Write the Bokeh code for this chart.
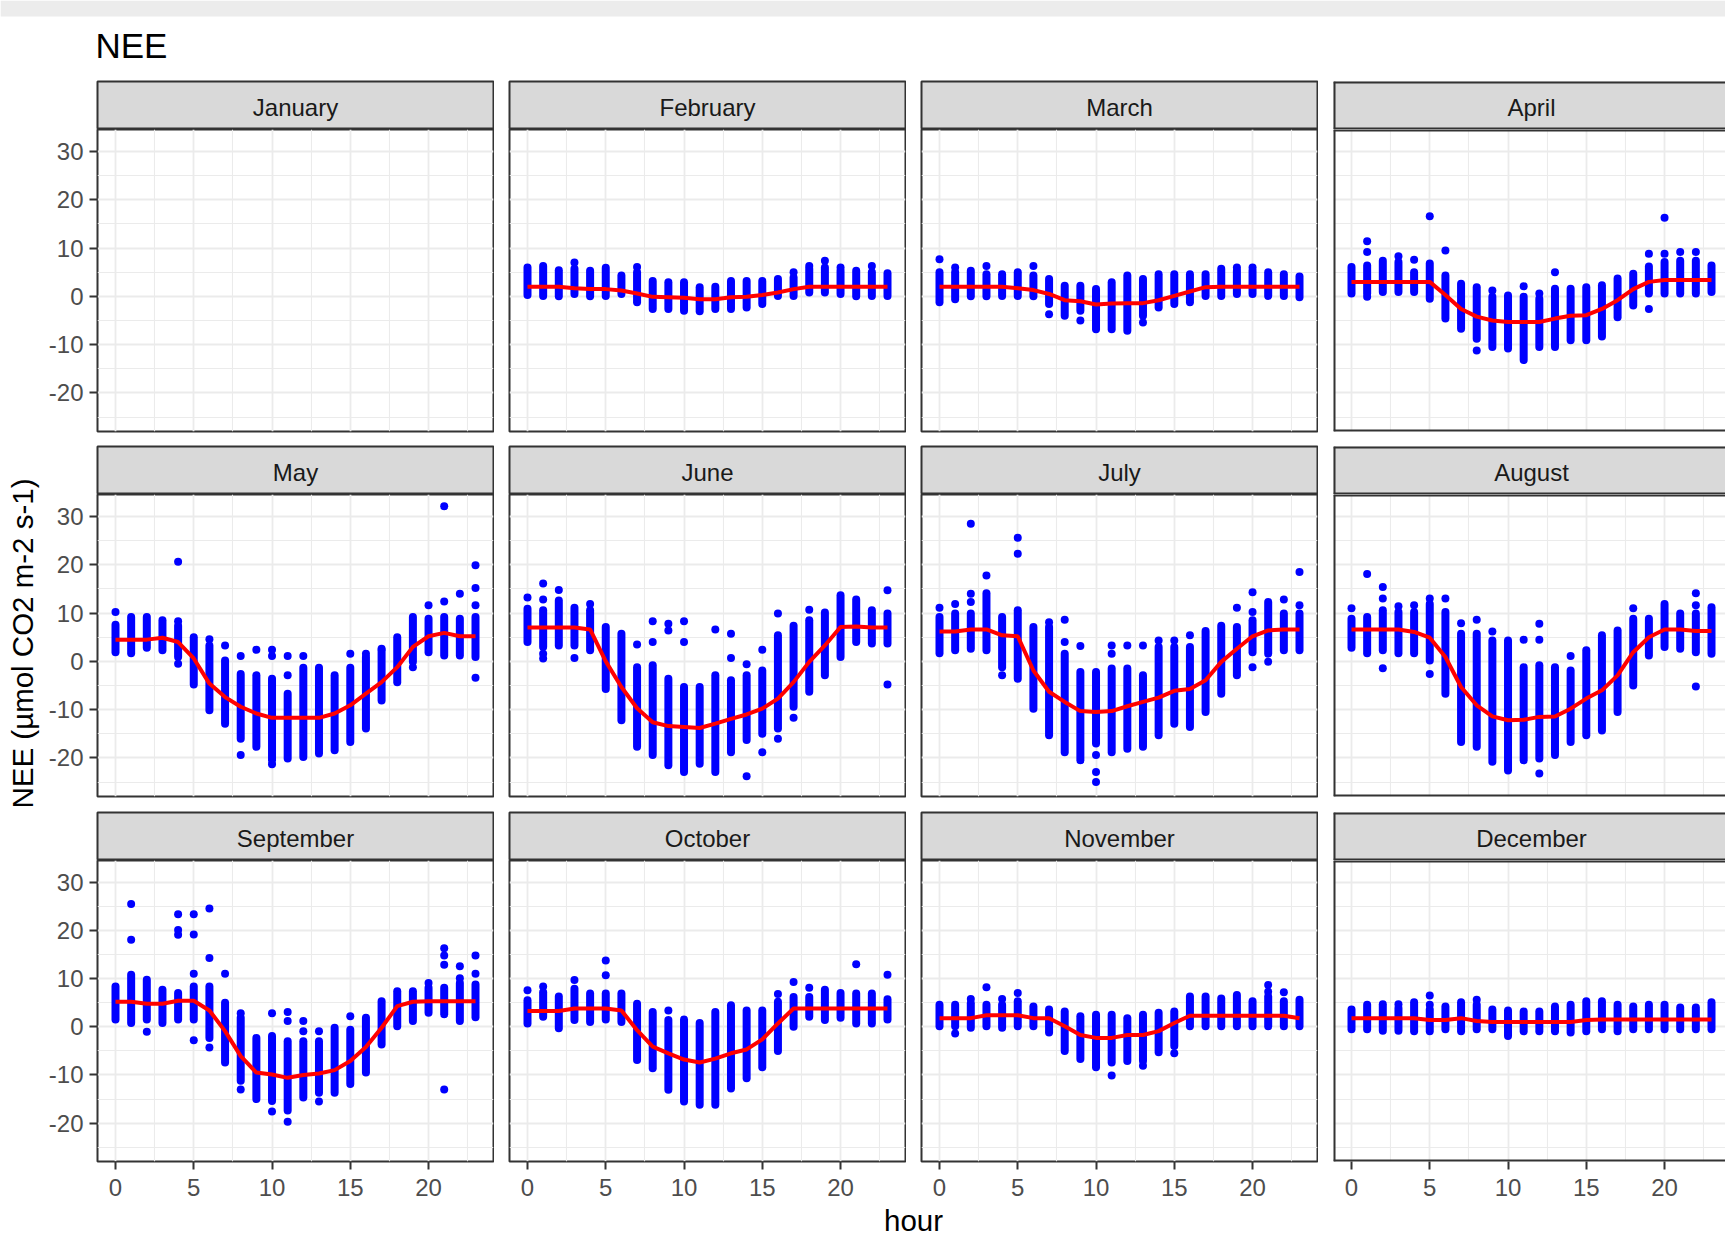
import math

from bokeh.plotting import figure
from bokeh.layouts import column, row
from bokeh.models import Range1d, FixedTicker, Span, Label, BoxAnnotation, ColumnDataSource
from bokeh.embed import file_html
from bokeh.resources import INLINE

# ---------------------------------------------------------------- data
HOURS = list(range(24))
MONTHS = ["January", "February", "March", "April", "May", "June",
          "July", "August", "September", "October", "November", "December"]

X_MAJOR = [0, 5, 10, 15, 20]
X_MINOR = [2.5, 7.5, 12.5, 17.5, 22.5]
Y_MAJOR = [-20, -10, 0, 10, 20, 30]
Y_MINOR = [-25, -15, -5, 5, 15, 25]
Y_LABELS = {-20: "-20", -10: "-10", 0: "0", 10: "10", 20: "20", 30: "30"}

# per hour: lower / upper end of the bulk of the half-hourly NEE values,
# isolated values outside that bulk, and the smoothed diurnal course
FEB_LOW = [0.3, 0.1, 0.0, 0.5, 0.0, 0.1, 0.5, -1.2, -2.6, -2.6, -3.0, -3.1, -2.6, -2.6, -2.3, -1.6, 0.1, 0.1, 0.8, 0.8, 0.5, 0.0, 0.1, 0.1]
FEB_HIGH = [6.0, 6.3, 5.4, 5.7, 5.3, 5.9, 4.3, 5.0, 3.2, 2.9, 2.9, 1.9, 2.0, 3.2, 3.2, 3.2, 3.6, 3.9, 5.7, 6.0, 5.3, 5.3, 5.0, 4.8]
FEB_CURVE = [2.0, 2.0, 2.0, 1.7, 1.5, 1.5, 1.2, 0.6, -0.1, -0.2, -0.3, -0.6, -0.6, -0.2, -0.1, 0.3, 0.8, 1.5, 2.0, 2.0, 2.0, 2.0, 2.0, 2.0]
FEB_OUTLIERS = [(3, 7.0), (7, 6.1), (17, 5.0), (18, 6.3), (19, 7.4), (20, 6.0), (22, 6.3)]

MAR_LOW = [-1.2, -0.6, 0.0, 0.0, 0.1, 0.1, 0.0, -1.6, -4.0, -3.0, -6.8, -6.8, -7.1, -4.0, -2.3, -1.6, -1.2, 0.1, 0.1, 0.5, 0.5, 0.1, 0.1, -0.2]
MAR_HIGH = [5.0, 5.0, 5.3, 4.6, 4.6, 5.0, 4.3, 3.6, 2.2, 2.2, 1.5, 2.9, 4.3, 3.6, 4.6, 4.6, 4.6, 4.6, 5.7, 5.3, 5.3, 5.0, 4.6, 4.1]
MAR_CURVE = [2.0, 2.0, 2.0, 2.0, 2.0, 1.7, 1.3, 0.5, -0.8, -1.0, -1.7, -1.5, -1.4, -1.4, -0.8, 0.1, 1.0, 1.9, 2.0, 2.0, 2.0, 2.0, 2.0, 2.0]
MAR_OUTLIERS = [(0, 7.7), (1, 6.0), (3, 6.3), (6, 6.3), (7, -3.7), (9, -5.0), (13, -5.4), (19, 6.0), (20, 6.0)]

APR_LOW = [0.6, 0.6, 0.9, 0.9, 0.9, -0.5, -4.6, -6.7, -8.8, -10.5, -10.8, -13.2, -10.5, -10.5, -9.1, -9.1, -8.3, -4.3, -1.9, 0.6, 0.6, 0.6, 0.6, 0.9]
APR_HIGH = [6.1, 6.4, 7.4, 7.1, 5.0, 6.8, 4.3, 2.6, 1.9, -0.1, 0.2, -0.1, -0.5, 1.6, 1.6, 1.9, 2.3, 3.7, 4.7, 6.2, 7.1, 7.4, 7.4, 6.4]
APR_CURVE = [3.0, 3.0, 3.0, 3.0, 3.0, 3.0, 0.3, -2.6, -4.2, -5.0, -5.3, -5.3, -5.3, -4.6, -4.0, -3.9, -2.6, -0.8, 1.5, 3.0, 3.4, 3.4, 3.4, 3.4]
APR_OUTLIERS = [(1, 11.4), (1, 9.2), (1, -0.1), (3, 8.3), (4, 7.6), (5, 16.6), (6, 9.5), (8, -11.2), (9, 1.2),
                (11, 2.1), (12, 0.6), (13, 5.0), (19, 8.8), (19, -2.6), (20, 16.3), (20, 8.8), (21, 9.2), (22, 9.2)]

MAY_LOW = [1.9, 1.7, 2.8, 2.3, 0.9, -4.8, -10.1, -12.9, -16.0, -17.7, -20.5, -20.1, -19.8, -19.1, -18.4, -16.7, -13.9, -8.1, -4.3, -0.1, 1.9, 1.2, 1.2, 0.9]
MAY_HIGH = [7.6, 9.2, 9.2, 8.5, 7.4, 5.0, 3.3, 0.2, -2.6, -2.9, -3.6, -6.7, -1.3, -1.3, -2.9, -1.3, 0.9, 2.3, 5.0, 9.2, 8.8, 9.2, 8.8, 9.2]
MAY_CURVE = [4.5, 4.5, 4.5, 4.9, 4.0, 0.6, -4.6, -7.4, -9.4, -10.8, -11.7, -11.7, -11.7, -11.7, -10.8, -9.1, -6.7, -4.3, -1.2, 3.0, 5.2, 5.9, 5.2, 5.2]
MAY_OUTLIERS = [(0, 10.2), (4, 8.3), (4, -0.5), (4, 20.6), (6, 4.6), (7, 3.3), (8, 1.1), (8, -19.4), (9, 2.4),
                (10, 2.4), (10, 1.1), (10, -21.3), (11, 1.1), (11, -2.9), (12, 1.1), (15, 1.6), (16, 1.6),
                (17, 2.6), (19, -1.2), (20, 11.6), (21, 12.4), (21, 32.1), (22, 14.0), (23, 19.9), (23, 15.2),
                (23, 11.6), (23, -3.4)]

JUN_LOW = [4.0, 3.0, 3.3, 3.3, 2.3, -5.7, -12.2, -17.7, -19.4, -21.5, -22.9, -21.2, -22.9, -18.8, -16.3, -15.0, -13.9, -9.4, -6.3, -2.9, 0.9, 4.0, 3.7, 3.7]
JUN_HIGH = [10.9, 10.6, 12.6, 11.1, 10.6, 7.1, 5.7, -1.2, -0.8, -3.6, -5.3, -5.3, -2.9, -3.9, -2.9, -1.9, 5.4, 7.4, 8.5, 10.1, 13.7, 12.8, 10.6, 9.9]
JUN_CURVE = [7.0, 7.0, 7.0, 7.0, 6.6, 0.0, -5.3, -9.7, -12.6, -13.4, -13.6, -13.8, -12.9, -11.9, -11.0, -9.8, -7.7, -4.3, -0.1, 3.3, 7.1, 7.2, 7.0, 7.0]
JUN_OUTLIERS = [(0, 13.2), (1, 12.8), (1, 16.1), (1, 1.6), (1, 0.6), (2, 14.8), (3, 0.7), (4, 11.9), (7, 3.5),
                (8, 8.3), (8, 4.0), (9, 7.8), (9, 6.4), (10, 8.3), (10, 4.0), (12, 6.6), (13, 5.7), (13, 0.7),
                (14, -0.6), (14, -23.8), (15, 2.4), (15, -18.8), (16, 9.9), (16, -16.0), (17, -11.7),
                (18, 10.7), (23, 14.7), (23, -4.8)]

JUL_LOW = [1.7, 2.3, 2.6, 2.3, -1.2, -3.6, -9.8, -15.3, -18.8, -20.5, -17.0, -18.8, -18.1, -17.7, -15.3, -12.9, -13.6, -10.5, -6.7, -2.9, 1.9, 1.6, 2.3, 2.3]
JUL_HIGH = [9.2, 9.9, 9.9, 14.1, 9.2, 10.6, 7.1, 7.1, 1.6, -2.2, -2.2, -1.5, -1.5, -2.9, 3.0, 3.0, 3.0, 6.3, 7.4, 7.1, 8.5, 12.3, 9.9, 9.9]
JUL_CURVE = [6.2, 6.2, 6.6, 6.6, 5.4, 5.2, -1.9, -6.3, -8.4, -10.3, -10.5, -10.3, -9.3, -8.4, -7.5, -6.1, -5.7, -3.9, -0.1, 2.6, 5.2, 6.4, 6.6, 6.6]
JUL_OUTLIERS = [(0, 11.1), (1, 11.9), (2, 14.0), (2, 12.3), (2, 28.5), (3, 17.8), (4, -2.9), (5, 25.6), (5, 22.3),
                (7, 8.1), (8, 8.6), (8, 4.0), (9, 3.2), (10, -19.4), (10, -22.9), (10, -25.0), (11, 3.3),
                (11, 1.6), (12, 3.3), (13, 3.3), (14, 4.3), (15, 4.3), (16, 5.4), (19, 11.1), (20, 14.3),
                (20, 10.2), (20, -1.2), (21, -0.1), (22, 12.8), (23, 18.5), (23, 11.6)]

AUG_LOW = [2.8, 1.7, 2.3, 1.7, 1.7, 0.2, -6.7, -16.7, -17.7, -20.8, -22.6, -20.5, -20.1, -19.4, -16.7, -15.3, -14.3, -10.5, -5.0, 1.2, 3.0, 2.6, 1.9, 1.6]
AUG_HIGH = [8.8, 9.2, 10.6, 10.2, 10.2, 11.9, 10.2, 5.7, 5.7, 4.3, 4.3, -1.2, -0.8, -1.2, -1.9, 2.3, 5.4, 6.4, 8.8, 8.8, 11.9, 9.9, 9.9, 11.2]
AUG_CURVE = [6.6, 6.6, 6.6, 6.6, 6.1, 4.9, 0.9, -5.3, -9.1, -11.4, -12.2, -12.1, -11.5, -11.4, -9.8, -7.7, -6.0, -2.9, 1.9, 5.0, 6.6, 6.6, 6.3, 6.3]
AUG_OUTLIERS = [(0, 11.0), (1, 18.1), (2, 15.4), (2, 13.0), (2, -1.4), (3, 11.4), (4, 11.6), (5, 13.0), (5, -2.6),
                (6, 13.0), (7, 7.9), (8, 8.6), (9, 6.2), (11, 4.5), (12, 7.8), (12, 4.5), (12, -23.2),
                (14, 1.1), (18, 11.0), (22, 14.1), (22, 11.6), (22, -5.2)]

SEP_LOW = [1.5, 0.8, 1.5, 0.8, 1.5, 1.5, -2.3, -7.4, -11.2, -15.0, -15.4, -17.4, -14.7, -13.7, -13.7, -11.9, -9.5, -3.7, 0.1, 1.2, 2.9, 2.6, 1.2, 2.0]
SEP_HIGH = [8.4, 10.8, 9.8, 7.7, 7.0, 8.4, 8.4, 5.0, 1.9, -2.3, -1.9, -3.0, -3.0, -3.0, -0.2, -0.6, 1.9, 5.3, 7.4, 7.4, 8.1, 8.1, 9.1, 8.8]
SEP_CURVE = [5.2, 5.2, 4.8, 4.8, 5.4, 5.4, 3.4, -0.9, -6.1, -9.5, -9.9, -10.6, -10.0, -9.7, -9.0, -7.1, -4.2, -0.2, 4.3, 5.2, 5.3, 5.3, 5.3, 5.3]
SEP_OUTLIERS = [(1, 18.1), (1, 25.5), (2, -1.0), (4, 20.1), (4, 19.1), (4, 23.4), (5, 11.0), (5, 19.2), (5, 23.4),
                (5, -2.8), (6, 14.3), (6, 24.6), (6, -4.3), (7, 11.0), (8, 2.8), (8, -13.0), (10, 2.8),
                (10, -17.6), (11, 3.1), (11, 1.2), (11, -19.7), (12, 1.2), (12, -0.9), (13, -0.9), (13, -15.5),
                (15, 2.2), (20, 9.1), (21, 16.3), (21, 14.8), (21, 12.9), (21, -13.0), (22, 12.6), (22, 10.1),
                (23, 14.8), (23, 11.0)]

OCT_LOW = [0.7, 2.1, -0.3, 1.4, 1.0, 1.5, 1.0, -6.9, -8.6, -13.1, -15.5, -16.2, -16.2, -12.8, -10.7, -8.4, -5.0, 0.0, 2.1, 1.4, 1.9, 0.7, 0.7, 1.5]
OCT_HIGH = [5.5, 7.2, 6.3, 7.9, 6.9, 6.9, 6.9, 4.8, 3.1, 1.4, 1.5, 0.8, 3.1, 4.5, 3.4, 3.4, 5.2, 6.2, 6.2, 7.7, 7.0, 6.9, 6.9, 5.7]
OCT_CURVE = [3.3, 3.3, 3.3, 3.8, 3.8, 3.8, 3.4, -0.7, -4.1, -5.5, -6.8, -7.4, -6.6, -5.5, -4.7, -2.6, 0.7, 3.8, 3.8, 3.8, 3.8, 3.8, 3.8, 3.8]
OCT_OUTLIERS = [(0, 7.6), (1, 8.4), (3, 9.7), (5, 13.8), (5, 10.7), (9, 3.4), (16, 6.8), (17, 9.3), (18, 8.1),
                (21, 13.0), (23, 10.8)]

NOV_LOW = [0.1, 0.1, -0.2, 0.1, -0.2, 0.1, 0.1, -1.2, -5.0, -6.7, -8.4, -7.4, -7.1, -7.1, -5.3, -4.0, 0.1, 0.1, 0.1, 0.1, 0.1, 0.1, 0.1, 0.1]
NOV_HIGH = [4.6, 4.6, 4.9, 4.6, 4.6, 5.3, 4.2, 3.6, 3.2, 2.2, 2.5, 2.5, 1.8, 2.5, 2.9, 3.2, 6.3, 6.3, 5.9, 6.6, 5.3, 6.3, 5.3, 5.6]
NOV_CURVE = [1.8, 1.8, 1.8, 2.4, 2.4, 2.4, 1.8, 1.8, 0.1, -1.7, -2.3, -2.3, -1.7, -1.7, -0.9, 0.8, 2.3, 2.3, 2.3, 2.3, 2.3, 2.3, 2.3, 1.8]
NOV_OUTLIERS = [(1, -1.4), (2, 5.8), (3, 8.2), (4, 5.8), (5, 7.0), (11, -10.1), (13, -8.1), (15, -5.5),
                (21, 8.7), (21, 7.3), (22, 7.2)]

DEC_LOW = [-0.5, -0.5, -0.8, -0.8, -0.9, -0.9, -0.5, -0.9, -0.5, -0.5, -1.9, -0.9, -0.9, -0.9, -1.2, -0.9, -0.5, -0.9, -0.5, -0.5, -0.5, -0.5, -0.5, -0.5]
DEC_HIGH = [3.6, 4.6, 4.7, 3.9, 5.1, 3.6, 4.2, 5.1, 4.6, 3.6, 3.4, 3.2, 3.2, 4.2, 4.6, 5.3, 5.3, 4.6, 4.2, 4.6, 4.6, 4.0, 4.0, 5.1]
DEC_CURVE = [1.8, 1.8, 1.8, 1.8, 1.8, 1.4, 1.4, 1.8, 1.2, 1.0, 1.0, 1.0, 1.0, 1.0, 1.0, 1.4, 1.5, 1.5, 1.5, 1.5, 1.5, 1.5, 1.5, 1.5]
DEC_OUTLIERS = [(3, 4.7), (5, 6.5), (5, 4.6), (8, 5.6)]

# January has no observations
MONTH_DATA = {
    "February": (FEB_LOW, FEB_HIGH, FEB_CURVE, FEB_OUTLIERS),
    "March": (MAR_LOW, MAR_HIGH, MAR_CURVE, MAR_OUTLIERS),
    "April": (APR_LOW, APR_HIGH, APR_CURVE, APR_OUTLIERS),
    "May": (MAY_LOW, MAY_HIGH, MAY_CURVE, MAY_OUTLIERS),
    "June": (JUN_LOW, JUN_HIGH, JUN_CURVE, JUN_OUTLIERS),
    "July": (JUL_LOW, JUL_HIGH, JUL_CURVE, JUL_OUTLIERS),
    "August": (AUG_LOW, AUG_HIGH, AUG_CURVE, AUG_OUTLIERS),
    "September": (SEP_LOW, SEP_HIGH, SEP_CURVE, SEP_OUTLIERS),
    "October": (OCT_LOW, OCT_HIGH, OCT_CURVE, OCT_OUTLIERS),
    "November": (NOV_LOW, NOV_HIGH, NOV_CURVE, NOV_OUTLIERS),
    "December": (DEC_LOW, DEC_HIGH, DEC_CURVE, DEC_OUTLIERS),
}

# ---------------------------------------------------------------- style
FONT = "Liberation Sans"
BORDER = "#333333"
GRID = "#ebebeb"
STRIP_FILL = "#d9d9d9"
POINT_COLOR = "#0000ff"
CURVE_COLOR = "#ff0000"

X_START, X_END = -1.15, 24.15
Y_START, Y_END = -27.98, 34.55
FRAME_W = 396
PAGE_W = 1725
PAGE_H = 1241
HEADER_H = 80
YLAB_W = 40
ROW_BOTTOM = [14, 15, 44]
FRAME_H = [302, 302, 301]
STRIP_H = 49


def geometry(col):
    """left border, frame width, right border and x end for a facet column"""
    if col == 0:
        left, frame_w, right = 57, FRAME_W, 1
    elif col < 3:
        left, frame_w, right = 15, FRAME_W, 1
    else:
        left, right = 15, 0
        frame_w = PAGE_W - YLAB_W - (57 + FRAME_W + 1) - 2 * (15 + FRAME_W + 1) - left
    x_end = X_START + (X_END - X_START) * frame_w / FRAME_W
    return left, frame_w, right, x_end


def open_border(p, top, bottom, left):
    # rightmost column runs off the page: draw only the visible sides
    p.outline_line_color = None
    for loc, dim in ((left, "height"), (top, "width"), (bottom, "width")):
        p.add_layout(Span(location=loc, dimension=dim, line_color=BORDER, line_width=4))


def make_panel(month, r, c):
    left, frame_w, right, x_end = geometry(c)
    bottom = ROW_BOTTOM[r]
    p = figure(width=left + frame_w + right, height=FRAME_H[r] + bottom,
               x_range=Range1d(X_START, x_end), y_range=Range1d(Y_START, Y_END),
               x_axis_location="below" if r == 2 else None,
               y_axis_location="left" if c == 0 else None,
               min_border_left=left, min_border_right=right,
               min_border_top=0, min_border_bottom=bottom,
               tools="", toolbar_location=None, output_backend="svg",
               background_fill_color="white", border_fill_color="white")

    p.xgrid.ticker = FixedTicker(ticks=X_MAJOR, minor_ticks=X_MINOR)
    p.ygrid.ticker = FixedTicker(ticks=Y_MAJOR, minor_ticks=Y_MINOR)
    for g in (p.xgrid, p.ygrid):
        g.grid_line_color = GRID
        g.grid_line_width = 1.8
        g.minor_grid_line_color = GRID
        g.minor_grid_line_width = 1.1

    if r == 2:
        p.xaxis.ticker = FixedTicker(ticks=X_MAJOR)
    if c == 0:
        p.yaxis.ticker = FixedTicker(ticks=Y_MAJOR)
        p.yaxis.major_label_overrides = Y_LABELS
    for ax in p.axis:
        ax.axis_line_color = None
        ax.major_tick_line_color = BORDER
        ax.major_tick_line_width = 2
        ax.major_tick_out = 8
        ax.major_tick_in = 0
        ax.minor_tick_out = 0
        ax.minor_tick_in = 0
        ax.major_label_text_font = FONT
        ax.major_label_text_font_size = "24px"
        ax.major_label_text_color = "#4d4d4d"
        ax.major_label_standoff = 6
    if r == 2:
        p.xaxis.major_label_standoff = 9

    if c == 3:
        open_border(p, Y_END, Y_START, X_START)
    else:
        p.outline_line_color = BORDER
        p.outline_line_width = 2

    if month in MONTH_DATA:
        low, high, curve, outliers = MONTH_DATA[month]
        bulk = ColumnDataSource(dict(hour=HOURS, low=low, high=high))
        p.segment(x0="hour", y0="low", x1="hour", y1="high", source=bulk,
                  line_color=POINT_COLOR, line_width=8, line_cap="round")
        p.scatter(x=[h for h, _ in outliers], y=[v for _, v in outliers],
                  size=8, fill_color=POINT_COLOR, line_color=None)
        p.line(HOURS, curve, line_color=CURVE_COLOR, line_width=4)
    return p


def make_strip(month, c, x_range):
    left, frame_w, right, _ = geometry(c)
    s = figure(width=left + frame_w + right, height=STRIP_H,
               x_range=x_range, y_range=Range1d(0, STRIP_H - 1),
               x_axis_location=None, y_axis_location=None,
               min_border_left=left, min_border_right=right,
               min_border_top=1, min_border_bottom=0,
               tools="", toolbar_location=None, output_backend="svg",
               background_fill_color=STRIP_FILL, border_fill_color="white")
    s.grid.visible = False
    if c == 3:
        open_border(s, STRIP_H - 1, 0, X_START)
    else:
        s.outline_line_color = BORDER
        s.outline_line_width = 2
    s.add_layout(Label(x=(X_START + X_END) / 2, y=22, text=month,
                       text_align="center", text_baseline="alphabetic",
                       text_font=FONT, text_font_size="24px", text_color="#1a1a1a"))
    return s


def blank(width, height):
    b = figure(width=width, height=height, x_range=Range1d(0, width), y_range=Range1d(0, height),
               x_axis_location=None, y_axis_location=None, min_border=0,
               tools="", toolbar_location=None, output_backend="svg",
               background_fill_color="white", border_fill_color="white")
    b.grid.visible = False
    b.outline_line_color = None
    return b


header = blank(PAGE_W, HEADER_H)
header.add_layout(BoxAnnotation(left=0, right=PAGE_W, bottom=64, top=80,
                                fill_color="#ececec", fill_alpha=1, line_color=None))
header.add_layout(Label(x=95, y=35, text="NEE", text_font=FONT, text_font_size="35px",
                        text_color="black", text_baseline="alphabetic"))

facet_rows = []
for r in range(3):
    cells = []
    for c in range(4):
        month = MONTHS[r * 4 + c]
        panel = make_panel(month, r, c)
        strip = make_strip(month, c, panel.x_range)
        cells.append(column(strip, panel, spacing=0))
    facet_rows.append(row(*cells, spacing=0))

grid_h = sum(STRIP_H + FRAME_H[r] + ROW_BOTTOM[r] for r in range(3))
ylab = blank(YLAB_W, grid_h)
ylab.add_layout(Label(x=22, y=grid_h - 563, text="NEE (\u00b5mol CO2 m-2 s-1)", angle=math.pi / 2,
                      text_align="center", text_baseline="alphabetic",
                      text_font=FONT, text_font_size="29.5px", text_color="black"))

footer_h = PAGE_H - HEADER_H - grid_h
footer = blank(PAGE_W, footer_h)
footer.add_layout(Label(x=913, y=21, text="hour", text_align="center",
                        text_baseline="alphabetic", text_font=FONT, text_font_size="29.5px",
                        text_color="black"))

layout = column(header, row(ylab, column(*facet_rows, spacing=0), spacing=0), footer, spacing=0)

open("out.html", "w").write(file_html(layout, INLINE, "NEE"))
